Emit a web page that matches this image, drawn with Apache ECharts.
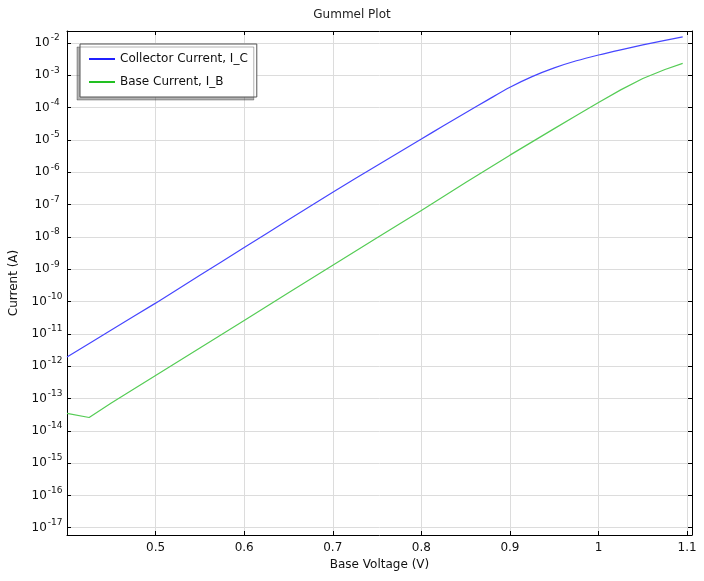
<!DOCTYPE html>
<html>
<head>
<meta charset="utf-8">
<script src="https://cdn.jsdelivr.net/npm/echarts@6/dist/echarts.min.js"></script>
<style>
html,body{margin:0;padding:0;background:#fff;}
#c{width:704px;height:581px;}
</style>
</head>
<body>
<div id="c"></div>
<script>
var titleText = 'Gummel Plot';
var xName = 'Base Voltage (V)';
var yName = 'Current (A)';
var xTicks = [0.5, 0.6, 0.7, 0.8, 0.9, 1.0, 1.1];
var yTickExps = [-17, -16, -15, -14, -13, -12, -11, -10, -9, -8, -7, -6, -5, -4, -3, -2];

var icName = 'Collector Current, I_C';
var icV = [0.40, 0.45, 0.50, 0.55, 0.60, 0.65, 0.70, 0.75, 0.80, 0.825, 0.85, 0.875, 0.90, 0.925, 0.95, 0.975, 1.00, 1.025, 1.05, 1.075, 1.095];
var icI = [1.91e-12, 1.32e-11, 8.91e-11, 6.46e-10, 4.68e-9, 3.39e-8, 2.40e-7, 1.62e-6, 1.07e-5, 2.75e-5, 6.92e-5, 1.74e-4, 4.27e-4, 9.12e-4, 1.70e-3, 2.82e-3, 4.27e-3, 6.17e-3, 8.71e-3, 1.20e-2, 1.55e-2];

var ibName = 'Base Current, I_B';
var ibV = [0.40, 0.425, 0.45, 0.50, 0.55, 0.60, 0.65, 0.70, 0.75, 0.80, 0.85, 0.90, 0.95, 0.975, 1.00, 1.025, 1.05, 1.075, 1.095];
var ibI = [3.47e-14, 2.57e-14, 7.24e-14, 5.13e-13, 3.63e-12, 2.57e-11, 1.86e-10, 1.32e-9, 9.33e-9, 6.61e-8, 4.79e-7, 3.39e-6, 2.24e-5, 5.75e-5, 1.45e-4, 3.55e-4, 7.94e-4, 1.51e-3, 2.34e-3];

function pairs(xs, ys) {
  return xs.map(function (x, i) { return [x, Math.log10(ys[i])]; });
}

var FONT = 'DejaVu Sans';
var xMin = 0.4, xMax = 1.1055;
var yMin = -17.226, yMax = -1.628;

var chart = echarts.init(document.getElementById('c'), null, {renderer: 'canvas'});

var gridLine = {show: true, lineStyle: {color: '#dcdcdc', width: 1}};
var axisLine = {show: true, lineStyle: {color: '#000', width: 1}};

var option = {
  animation: false,
  backgroundColor: '#fff',
  title: {
    text: titleText,
    left: 'center',
    top: 4,
    textStyle: {fontFamily: FONT, fontSize: 12, fontWeight: 'normal', color: '#222'}
  },
  grid: {left: 67, top: 31, right: 12, bottom: 46, containLabel: false, outerBoundsMode: 'none'},
  legend: {
    left: 80,
    top: 44,
    orient: 'vertical',
    padding: [8, 9, 8, 9],
    itemGap: 9,
    itemWidth: 26,
    itemHeight: 2,
    icon: 'rect',
    borderColor: '#555',
    borderWidth: 1,
    backgroundColor: '#fff',
    shadowColor: 'rgba(0,0,0,0.3)',
    shadowBlur: 0,
    shadowOffsetX: -3,
    shadowOffsetY: 3,
    textStyle: {fontFamily: FONT, fontSize: 12, color: '#111', lineHeight: 14},
    data: [icName, ibName]
  },
  xAxis: [{
    type: 'value',
    min: xMin, max: xMax,
    position: 'bottom',
    name: xName,
    nameLocation: 'middle',
    nameGap: 23,
    nameTextStyle: {fontFamily: FONT, fontSize: 12, color: '#111'},
    axisLine: axisLine,
    axisTick: {show: true, inside: true, length: 4, customValues: xTicks, lineStyle: {color: '#000'}},
    axisLabel: {show: true, customValues: xTicks, margin: 7, fontFamily: FONT, fontSize: 12, color: '#111',
      formatter: function (v) { return String(Math.round(v * 10) / 10); }},
    splitLine: gridLine
  }, {
    type: 'value',
    min: xMin, max: xMax,
    position: 'top',
    axisLine: axisLine,
    axisTick: {show: true, inside: true, length: 4, customValues: xTicks, lineStyle: {color: '#000'}},
    axisLabel: {show: false},
    splitLine: {show: false}
  }],
  yAxis: [{
    type: 'value',
    min: yMin, max: yMax,
    position: 'left',
    name: yName,
    nameLocation: 'middle',
    nameGap: 47,
    nameRotate: 90,
    nameTextStyle: {fontFamily: FONT, fontSize: 12, color: '#111'},
    axisLine: axisLine,
    axisTick: {show: true, inside: true, length: 4, customValues: yTickExps, lineStyle: {color: '#000'}},
    axisLabel: {
      show: true, customValues: yTickExps, margin: 20, align: 'center',
      formatter: function (v) { return '{b|10}{s|' + Math.round(v) + '}'; },
      rich: {
        b: {fontFamily: FONT, fontSize: 12, color: '#111'},
        s: {fontFamily: FONT, fontSize: 9, color: '#111', padding: [0, 0, 10, 1]}
      }
    },
    splitLine: gridLine
  }, {
    type: 'value',
    min: yMin, max: yMax,
    position: 'right',
    axisLine: axisLine,
    axisTick: {show: true, inside: true, length: 4, customValues: yTickExps, lineStyle: {color: '#000'}},
    axisLabel: {show: false},
    splitLine: {show: false}
  }],
  series: [{
    name: icName,
    type: 'line',
    xAxisIndex: 0, yAxisIndex: 0,
    data: pairs(icV, icI),
    showSymbol: false,
    symbol: 'none',
    smooth: 0.3,
    lineStyle: {color: '#4646ff', width: 1.2},
    itemStyle: {color: '#2020ff'}
  }, {
    name: ibName,
    type: 'line',
    xAxisIndex: 0, yAxisIndex: 0,
    data: pairs(ibV, ibI),
    showSymbol: false,
    symbol: 'none',
    lineStyle: {color: '#55cc55', width: 1.2},
    itemStyle: {color: '#22c022'}
  }]
};
chart.setOption(option);
</script>
</body>
</html>
